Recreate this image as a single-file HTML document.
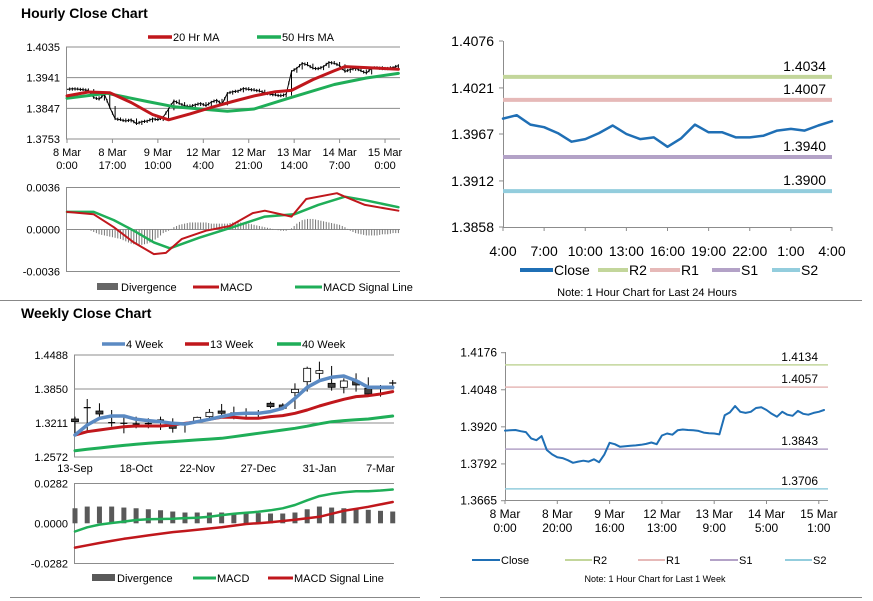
<!DOCTYPE html>
<html><head><meta charset="utf-8"><style>
body{margin:0;background:#fff;}
svg{display:block;font-family:"Liberation Sans",Arial,sans-serif;}
</style></head><body>
<svg id="c" width="873" height="601" viewBox="0 0 873 601">
<rect x="0" y="0" width="873" height="601" fill="#fff"/>
<text x="21" y="18" font-size="14" font-weight="bold">Hourly Close Chart</text>
<text x="21" y="318" font-size="14" font-weight="bold">Weekly Close Chart</text>
<line x1="0" y1="300.5" x2="862" y2="300.5" stroke="#888"/>
<line x1="10" y1="597.5" x2="420" y2="597.5" stroke="#888"/>
<line x1="440" y1="597.5" x2="862" y2="597.5" stroke="#888"/>
</svg>
<script>
// ---------- Hourly price (top-left) ----------
var hCloses=[1.3905,1.3907,1.3906,1.3904,1.3902,1.3880,1.3875,1.3890,1.3850,1.3815,1.3812,1.3808,1.3812,1.3800,1.3806,1.3808,1.3815,1.3812,1.3820,1.3845,1.3870,1.3862,1.3855,1.3852,1.3858,1.3862,1.3855,1.3866,1.3872,1.3860,1.3893,1.3898,1.3900,1.3908,1.3905,1.3903,1.3900,1.3895,1.3890,1.3888,1.3885,1.3890,1.3960,1.3970,1.3985,1.3980,1.3970,1.3968,1.3975,1.3988,1.3985,1.3978,1.3960,1.3966,1.3970,1.3962,1.3955,1.3970,1.3972,1.3968,1.3970,1.3972,1.3978];
var ma20Hours=[0,8,16,24,32,38,46,54,62,70,78,84,92,100,104,112,124];
var ma20Vals=[1.3885,1.3897,1.3895,1.3865,1.3828,1.3812,1.3830,1.3850,1.3868,1.3885,1.3898,1.3902,1.3935,1.3962,1.3975,1.3972,1.3967];
var ma50Hours=[0,15,30,40,60,70,83,100,112,124];
var ma50Vals=[1.3878,1.3893,1.3868,1.3852,1.3838,1.3845,1.3878,1.3920,1.3940,1.3954];
var hPriceTicks=["1.4035","1.3941","1.3847","1.3753"];
var hXLabels=[["8 Mar","0:00"],["8 Mar","17:00"],["9 Mar","10:00"],["12 Mar","4:00"],["12 Mar","21:00"],["13 Mar","14:00"],["14 Mar","7:00"],["15 Mar","0:00"]];
// ---------- Hourly MACD ----------
var hMacdHours=[0,10,17.5,25,32.5,37,43,52,61,69.5,74,84,89.5,101,104,111.5,124];
var hMacdVals=[0.0015,0.0013,0.0002,-0.0011,-0.0021,-0.0020,-0.0008,-0.0001,0.0003,0.0014,0.0016,0.0011,0.0026,0.0031,0.0028,0.0021,0.0016];
var hSigHours=[0,10,17.5,25,32.5,38.5,49.5,62,74,85,94,104,111.5,124];
var hSigVals=[0.0015,0.0015,0.0008,-0.0001,-0.0011,-0.0016,-0.0007,0.0002,0.0011,0.0013,0.0021,0.0028,0.0025,0.0019];
var hDiv=[0,0,0,0,0,-0.0002,-0.0004,-0.0005,-0.0006,-0.0007,-0.0008,-0.0010,-0.0012,-0.0013,-0.0013,-0.0012,-0.0010,-0.0007,-0.0003,-0.0001,0.0002,0.0004,0.0005,0.0006,0.0006,0.0006,0.0006,0.0005,0.0005,0.0005,0.0005,0.0006,0.0006,0.0006,0.0005,0.0004,0.0003,0.0002,0.0001,0,-0.0001,-0.0001,0.0001,0.0005,0.0008,0.0009,0.0009,0.0008,0.0007,0.0006,0.0005,0.0004,0.0002,-0.0001,-0.0003,-0.0004,-0.0005,-0.0005,-0.0005,-0.0004,-0.0004,-0.0003,-0.0003];
var hMacdTicks=["0.0036","0.0000","-0.0036"];
// ---------- 24h chart (top-right) ----------
var dCloses=[1.3985,1.3989,1.3978,1.3975,1.3968,1.3958,1.3961,1.3968,1.3977,1.3967,1.3961,1.3963,1.3952,1.3962,1.3978,1.3969,1.3969,1.3963,1.3963,1.3965,1.3971,1.3973,1.3971,1.3977,1.3982];
var dLevels=[1.4034,1.4007,1.3940,1.3900];
var dTicks=["1.4076","1.4021","1.3967","1.3912","1.3858"];
var dXLabels=["4:00","7:00","10:00","13:00","16:00","19:00","22:00","1:00","4:00"];
// ---------- Weekly (bottom-left) ----------
var wOHLC=[[1.3286,1.3330,1.3017,1.3236],[1.3495,1.3662,1.3048,1.3499],[1.3436,1.3581,1.3330,1.3380],[1.3236,1.3455,1.3142,1.3217],[1.3217,1.3361,1.3017,1.3205],[1.3205,1.3330,1.3111,1.3192],[1.3192,1.3299,1.3111,1.3199],[1.3255,1.3330,1.3080,1.3267],[1.3174,1.3299,1.3030,1.3111],[1.3180,1.3205,1.3030,1.3186],[1.3236,1.3330,1.3217,1.3317],[1.3330,1.3474,1.3280,1.3411],[1.3436,1.3568,1.3361,1.3393],[1.3393,1.3518,1.3280,1.3399],[1.3393,1.3487,1.3299,1.3393],[1.3393,1.3455,1.3299,1.3399],[1.3581,1.3612,1.3487,1.3518],[1.3549,1.3581,1.3455,1.3487],[1.3781,1.3956,1.3474,1.3843],[1.3987,1.4269,1.3800,1.4238],[1.4144,1.4363,1.3987,1.4194],[1.3956,1.4282,1.3818,1.3881],[1.3881,1.4050,1.3768,1.4000],[1.4000,1.4144,1.3800,1.3925],[1.3862,1.4069,1.3706,1.3756],[1.3881,1.3925,1.3706,1.3887],[1.3969,1.4019,1.3893,1.3962]];
var w4=[1.2986,1.3174,1.3299,1.3342,1.3342,1.3280,1.3255,1.3236,1.3205,1.3192,1.3236,1.3280,1.3330,1.3380,1.3393,1.3393,1.3424,1.3487,1.3674,1.3881,1.4006,1.4069,1.4094,1.4006,1.3881,1.3881,1.3881];
var w13=[1.2986,1.3048,1.3080,1.3111,1.3142,1.3155,1.3155,1.3155,1.3174,1.3205,1.3236,1.3280,1.3317,1.3317,1.3299,1.3299,1.3330,1.3349,1.3393,1.3455,1.3530,1.3593,1.3656,1.3706,1.3724,1.3756,1.3800];
var w40=[1.2691,1.2716,1.2741,1.2767,1.2790,1.2810,1.2829,1.2846,1.2862,1.2879,1.2893,1.2908,1.2923,1.2953,1.2985,1.3017,1.3048,1.3080,1.3111,1.3150,1.3195,1.3236,1.3255,1.3270,1.3286,1.3314,1.3342];
var wTicks=["1.4488","1.3850","1.3211","1.2572"];
var wXLabels=["13-Sep","18-Oct","22-Nov","27-Dec","31-Jan","7-Mar"];
var wDiv=[0.0106,0.0118,0.0118,0.0118,0.0111,0.0106,0.0099,0.0092,0.0083,0.0076,0.0076,0.0076,0.0076,0.0072,0.0072,0.0072,0.0069,0.0069,0.0076,0.0099,0.0118,0.0111,0.0106,0.0106,0.0095,0.0088,0.0083];
var wMacd=[-0.0058,-0.0028,-0.0009,0.0002,0.0012,0.0023,0.0028,0.0030,0.0032,0.0037,0.0039,0.0046,0.0058,0.0067,0.0074,0.0081,0.0092,0.0106,0.0129,0.0162,0.0192,0.0208,0.0219,0.0226,0.0226,0.0231,0.0238];
var wSig=[-0.0171,-0.0155,-0.0139,-0.0124,-0.0109,-0.0097,-0.0085,-0.0074,-0.0062,-0.0054,-0.0046,-0.0037,-0.0028,-0.0016,-0.0005,0.0001,0.0007,0.0016,0.0025,0.0035,0.0046,0.0067,0.0088,0.0102,0.0116,0.0133,0.0150];
var wMacdTicks=["0.0282","0.0000","-0.0282"];
// ---------- 1 week chart (bottom-right) ----------
var kCloses=[1.3907,1.3908,1.3909,1.3905,1.3902,1.3880,1.3874,1.3888,1.3840,1.3825,1.3815,1.3812,1.3805,1.3796,1.3800,1.3803,1.3800,1.3808,1.3798,1.3825,1.3865,1.3860,1.3851,1.3853,1.3855,1.3856,1.3858,1.3861,1.3866,1.3860,1.3890,1.3897,1.3893,1.3908,1.3911,1.3909,1.3908,1.3906,1.3900,1.3898,1.3897,1.3894,1.3960,1.3970,1.3992,1.3972,1.3968,1.3972,1.3985,1.3988,1.3978,1.3965,1.3955,1.3972,1.3962,1.3958,1.3975,1.3965,1.3962,1.3968,1.3972,1.3978];
var kLevels=[1.4134,1.4057,1.3843,1.3706];
var kTicks=["1.4176","1.4048","1.3920","1.3792","1.3665"];
var kXLabels=[["8 Mar","0:00"],["8 Mar","20:00"],["9 Mar","16:00"],["12 Mar","13:00"],["13 Mar","9:00"],["14 Mar","5:00"],["15 Mar","1:00"]];

var levelColors=["#c3d69b","#e6b9b8","#b3a2c7","#93cddd"];
var levelNames=["r2","r1","s1","s2"];
var svg=document.getElementById('c');
var NS="http://www.w3.org/2000/svg";
function lin(d0,d1,r0,r1){return function(v){return r0+(v-d0)/(d1-d0)*(r1-r0);};}
function mk(tag,attrs,name){var el=document.createElementNS(NS,tag);for(var k in attrs)el.setAttribute(k,attrs[k]);


svg.appendChild(el);return el;}
function line(x1,y1,x2,y2,col,w,name){return mk('line',{x1:x1,y1:y1,x2:x2,y2:y2,stroke:col,'stroke-width':w},name);}
function txt(x,y,s,anchor,size,name,col){var t=mk('text',{x:x,y:y,'font-size':size,'text-anchor':anchor,fill:col||'#000'},name);t.textContent=s;return t;}
function poly(xs,ys,col,w,name){var p=[];for(var i=0;i<xs.length;i++)p.push(xs[i].toFixed(1)+','+ys[i].toFixed(1));return mk('polyline',{points:p.join(' '),fill:'none',stroke:col,'stroke-width':w,'stroke-linejoin':'round','stroke-linecap':'round'},name);}
function idx(n,step){var a=[];for(var i=0;i<n;i++)a.push(i*step);return a;}

// ===== Panel 1: hourly price =====
(function(){
var X=lin(0,124.6,67,400),Y=lin(1.3753,1.4035,139,47);
var tv=hPriceTicks.map(Number);
tv.forEach(function(v,i){line(66,Y(v),400,Y(v),'#8c8c8c',1,'hourly-gridline');txt(60,Y(v)+4,hPriceTicks[i],'end',11,'hourly-y-tick');});
line(66.5,47,66.5,139,'#8c8c8c',1,'hourly-y-axis');
hXLabels.forEach(function(l,i){var x=X(i*17);line(x,139,x,143,'#8c8c8c',1,'hourly-x-tickmark');txt(x,156,l[0],'middle',11,'hourly-x-label');txt(x,169,l[1],'middle',11,'hourly-x-label');});
var hrs=idx(hCloses.length,2);
for(var i=1;i<hCloses.length;i++){var a=hCloses[i-1],b=hCloses[i];var lo=Math.min(a,b)-0.0004,hi=Math.max(a,b)+0.0004;
line(X(hrs[i]),Y(hi),X(hrs[i]),Y(lo),'#000',1,'hourly-price-bar');
var m=(a+b)/2;line(X(hrs[i]-1),Y(m+0.0005),X(hrs[i]-1),Y(m-0.0005),'#000',1,'hourly-price-bar');
line(X(hrs[i-1]),Y(a),X(hrs[i]),Y(b),'#000',1,'hourly-price-bar');}
poly(ma50Hours.map(X),ma50Vals.map(Y),'#1fae58',3,'ma50-line');
poly(ma20Hours.map(X),ma20Vals.map(Y),'#c0171c',3,'ma20-line');
line(148,37,172,37,'#c0171c',3.5,'legend-ma20-swatch');txt(173,41,'20 Hr MA','start',11,'legend-ma20-label');
line(257,37,281,37,'#1fae58',3.5,'legend-ma50-swatch');txt(282,41,'50 Hrs MA','start',11,'legend-ma50-label');
// MACD
var Ym=lin(-0.0036,0.0036,271.7,187.3);
line(66,187.5,400,187.5,'#8c8c8c',1,'hourly-macd-top-line');
line(66,Ym(0),400,Ym(0),'#8c8c8c',1,'hourly-macd-zero-line');
line(66,271.5,400,271.5,'#8c8c8c',1,'hourly-macd-bottom-axis');
line(66.5,187,66.5,272,'#8c8c8c',1,'hourly-macd-y-axis');
hMacdTicks.forEach(function(s){txt(60,Ym(Number(s))+4,s,'end',11,'hourly-macd-y-tick');});
for(var j=0;j<hDiv.length;j++){var x=X(j*2);mk('rect',{x:x-0.5,y:Math.min(Ym(hDiv[j]),Ym(0)),width:1,height:Math.abs(Ym(hDiv[j])-Ym(0))+0.1,fill:'#777'},'hourly-divergence-bar');
var x2=X(j*2+1);if(j<hDiv.length-1){var dv=(hDiv[j]+hDiv[j+1])/2;mk('rect',{x:x2-0.5,y:Math.min(Ym(dv),Ym(0)),width:1,height:Math.abs(Ym(dv)-Ym(0))+0.1,fill:'#777'},'hourly-divergence-bar');}}
poly(hSigHours.map(X),hSigVals.map(Ym),'#1fae58',2.5,'hourly-signal-line');
poly(hMacdHours.map(X),hMacdVals.map(Ym),'#c0171c',2,'hourly-macd-line');
mk('rect',{x:97,y:283,width:21,height:7,fill:'#666'},'legend-divergence-swatch');txt(121,291,'Divergence','start',11,'legend-divergence-label');
line(193,287,219,287,'#c0171c',3,'legend-macd-swatch');txt(220,291,'MACD','start',11,'legend-macd-label');
line(295,287,322,287,'#1fae58',3,'legend-signal-swatch');txt(323,291,'MACD Signal Line','start',11,'legend-signal-label');
})();

// ===== Panel 2: 24h =====
(function(){
var X=lin(0,24,503,832),Y=lin(1.3858,1.4076,227,41);
line(503.5,41,503.5,227,'#8c8c8c',1,'day-y-axis');line(503,227.5,832,227.5,'#8c8c8c',1,'day-x-axis');
dTicks.forEach(function(s){var y=Y(Number(s));line(499,y,503,y,'#8c8c8c',1,'day-y-tickmark');txt(494,y+5,s,'end',14,'day-y-tick');});
dXLabels.forEach(function(s,i){var x=X(i*3);line(x,227,x,231,'#8c8c8c',1,'day-x-tickmark');txt(x,256,s,'middle',14,'day-x-label');});
dLevels.forEach(function(v,i){line(503,Y(v),832,Y(v),levelColors[i],4,'day-level-'+levelNames[i]);txt(826,Y(v)-6,v.toFixed(4),'end',14,'day-level-label');});
poly(idx(dCloses.length,1).map(X),dCloses.map(Y),'#1f6fb5',2.5,'day-close-line');
var lg=[['Close','#1f6fb5',520,553],['R2',levelColors[0],598,628],['R1',levelColors[1],650,680],['S1',levelColors[2],712,740],['S2',levelColors[3],772,800]];
lg.forEach(function(l){line(l[2],270,l[3],270,l[1],4,'day-legend-swatch');txt(l[3]+1,275,l[0],'start',14,'day-legend-label');});
txt(647,296,'Note: 1 Hour Chart for Last 24 Hours','middle',11,'day-note');
})();

// ===== Panel 3: weekly =====
(function(){
var X=lin(0,1,75,87.22),Y=lin(1.2572,1.4488,457,355);
wTicks.forEach(function(s){var y=Y(Number(s));line(74,y,394,y,'#8c8c8c',1,'weekly-gridline');txt(68,y+4,s,'end',11,'weekly-y-tick');});
line(74.5,355,74.5,457,'#8c8c8c',1,'weekly-y-axis');
wXLabels.forEach(function(s,i){var x=X(i*5);txt(x,472,s,'middle',11,'weekly-x-label');});
wOHLC.forEach(function(c,i){var x=X(i);line(x,Y(c[1]),x,Y(c[2]),'#000',1,'weekly-candle-wick');
var top=Math.max(c[0],c[3]),bot=Math.min(c[0],c[3]);var h=Y(bot)-Y(top);
if(h<1.5){line(x-3.5,Y(c[3]),x+3.5,Y(c[3]),'#000',1.2,'weekly-candle-doji');}
else mk('rect',{x:x-3.5,y:Y(top),width:7,height:h,fill:c[3]<c[0]?'#404040':'#fff',stroke:'#000','stroke-width':0.8},'weekly-candle-body');});
var xs=idx(27,1).map(X);
poly(xs,w40.map(Y),'#1fae58',3,'ma40w-line');
poly(xs,w13.map(Y),'#c0171c',3,'ma13w-line');
poly(xs,w4.map(Y),'#5b8ac3',3.5,'ma4w-line');
line(102,344,125,344,'#5b8ac3',3.5,'legend-4w-swatch');txt(126,348,'4 Week','start',11,'legend-4w-label');
line(185,344,209,344,'#c0171c',3.5,'legend-13w-swatch');txt(210,348,'13 Week','start',11,'legend-13w-label');
line(277,344,301,344,'#1fae58',3.5,'legend-40w-swatch');txt(302,348,'40 Week','start',11,'legend-40w-label');
var Ym=lin(-0.0282,0.0282,563.3,483.3);
line(74,483.5,394,483.5,'#8c8c8c',1,'weekly-macd-top-line');
line(74,563.5,394,563.5,'#8c8c8c',1,'weekly-macd-bottom-axis');
line(74.5,483,74.5,564,'#8c8c8c',1,'weekly-macd-y-axis');
wMacdTicks.forEach(function(s){txt(68,Ym(Number(s))+4,s,'end',11,'weekly-macd-y-tick');});
wDiv.forEach(function(v,i){var x=X(i);mk('rect',{x:x-2.5,y:Math.min(Ym(v),Ym(0)),width:5,height:Math.abs(Ym(v)-Ym(0)),fill:'#595959'},'weekly-divergence-bar');});
poly(xs,wMacd.map(Ym),'#1fae58',2.5,'weekly-macd-line');
poly(xs,wSig.map(Ym),'#c0171c',2.5,'weekly-signal-line');
mk('rect',{x:92,y:574,width:23,height:7,fill:'#595959'},'legend-w-divergence-swatch');txt(117,582,'Divergence','start',11,'legend-w-divergence-label');
line(193,578,216,578,'#1fae58',3,'legend-w-macd-swatch');txt(217,582,'MACD','start',11,'legend-w-macd-label');
line(268,578,293,578,'#c0171c',3,'legend-w-signal-swatch');txt(294,582,'MACD Signal Line','start',11,'legend-w-signal-label');
})();

// ===== Panel 4: 1 week =====
(function(){
var X=lin(0,20,505,557.3),Y=lin(1.3665,1.4176,500.7,352.7);
line(505.5,352,505.5,501,'#8c8c8c',1,'week-y-axis');line(505,500.5,828,500.5,'#8c8c8c',1,'week-x-axis');
kTicks.forEach(function(s){var y=Y(Number(s));line(501,y,505,y,'#8c8c8c',1,'week-y-tickmark');txt(497,y+4,s,'end',12,'week-y-tick');});
kXLabels.forEach(function(l,i){var x=X(i*20);line(x,500,x,504,'#8c8c8c',1,'week-x-tickmark');txt(x,518,l[0],'middle',12,'week-x-label');txt(x,532,l[1],'middle',12,'week-x-label');});
kLevels.forEach(function(v,i){line(505,Y(v),828,Y(v),levelColors[i],1.5,'week-level-'+levelNames[i]);txt(818,Y(v)-4,v.toFixed(4),'end',12,'week-level-label');});
poly(idx(kCloses.length,2).map(X),kCloses.map(Y),'#1f6fb5',2,'week-close-line');
var lg=[['Close','#1f6fb5',472,500],['R2',levelColors[0],565,592],['R1',levelColors[1],638,665],['S1',levelColors[2],710,738],['S2',levelColors[3],785,812]];
lg.forEach(function(l){line(l[2],560,l[3],560,l[1],2,'week-legend-swatch');txt(l[3]+1,564,l[0],'start',11,'week-legend-label');});
txt(655,582,'Note: 1 Hour Chart for Last 1 Week','middle',9,'week-note');
})();
</script>
</body></html>
